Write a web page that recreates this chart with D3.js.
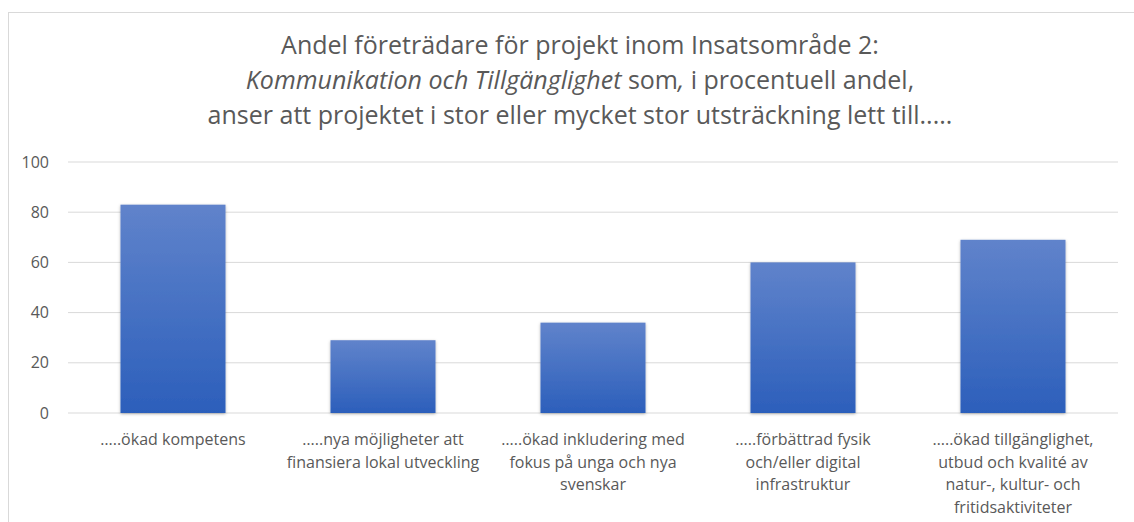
<!DOCTYPE html>
<html>
<head>
<meta charset="utf-8">
<script src="https://cdn.jsdelivr.net/npm/d3@7"></script>
<style>
  body { margin: 0; background: #fff; }
  svg text { font-family: "Open Sans", "Noto Sans", sans-serif; fill: #595959; }
</style>
</head>
<body>
<div id="chart"></div>
<script>
var categories = ["c1", "c2", "c3", "c4", "c5"];
var categoryLines = [
  ["…..ökad kompetens"],
  ["…..nya möjligheter att", "finansiera lokal utveckling"],
  ["…..ökad inkludering med", "fokus på unga och nya", "svenskar"],
  ["…..förbättrad fysik", "och/eller digital", "infrastruktur"],
  ["…..ökad tillgänglighet,", "utbud och kvalité av", "natur-, kultur- och", "fritidsaktiviteter"]
];
var values = [83, 29, 36, 60, 69];
var yTicks = [0, 20, 40, 60, 80, 100];

function main() {
  var width = 1134,
    height = 522;
  var margin = { left: 68, right: 16, top: 162, bottom: 109 };

  var svg = d3.select("#chart").append("svg").attr("width", width).attr("height", height);

  var defs = svg.append("defs");
  var grad = defs.append("linearGradient").attr("id", "barfill")
    .attr("x1", 0).attr("y1", 0).attr("x2", 0).attr("y2", 1);
  grad.append("stop").attr("offset", "0%").attr("stop-color", "#6083cb");
  grad.append("stop").attr("offset", "100%").attr("stop-color", "#2c5fbb");
  var shadow = defs.append("filter").attr("id", "shadow")
    .attr("x", "-20%").attr("y", "-20%").attr("width", "140%").attr("height", "140%");
  shadow.append("feDropShadow").attr("dx", 0).attr("dy", 1).attr("stdDeviation", 1.5)
    .attr("flood-color", "#000").attr("flood-opacity", 0.3);

  // chart frame
  svg.append("rect").attr("x", 8.5).attr("y", 12.5).attr("width", 1140).attr("height", 540)
    .attr("fill", "none").attr("stroke", "#d9d9d9").attr("stroke-width", 1);

  var x = d3.scaleBand().domain(categories)
    .range([margin.left, width - margin.right])
    .paddingInner(0.5).paddingOuter(0.25);
  var y = d3.scaleLinear().domain([0, 100]).range([height - margin.bottom, margin.top]);

  // gridlines
  svg.append("g").selectAll("line").data(yTicks).enter().append("line")
    .attr("x1", margin.left).attr("x2", width - margin.right)
    .attr("y1", function(d) { return y(d); }).attr("y2", function(d) { return y(d); })
    .attr("stroke", "#d9d9d9").attr("stroke-width", 1);

  var yAxis = svg.append("g").attr("transform", "translate(" + (margin.left - 19) + ",0)")
    .call(d3.axisLeft(y).tickValues(yTicks).tickSize(0).tickPadding(0));
  yAxis.select(".domain").remove();
  yAxis.selectAll("text").attr("font-size", 16).attr("fill", "#595959")
    .style("font-family", "'Open Sans', sans-serif");

  svg.append("g").selectAll("rect").data(values).enter().append("rect")
    .attr("x", function(d, i) { return x(categories[i]); })
    .attr("y", function(d) { return y(d); })
    .attr("width", x.bandwidth())
    .attr("height", function(d) { return y(0) - y(d); })
    .attr("fill", "url(#barfill)")
    .attr("filter", "url(#shadow)");

  // category labels
  var labels = svg.append("g").selectAll("text").data(categoryLines).enter().append("text")
    .attr("text-anchor", "middle").attr("font-size", 16)
    .attr("transform", function(d, i) { return "translate(" + (x(categories[i]) + x.bandwidth() / 2) + ",445)"; });
  labels.selectAll("tspan").data(function(d) { return d; }).enter().append("tspan")
    .attr("x", 0).attr("dy", function(d, j) { return j === 0 ? 0 : 22.5; })
    .text(function(d) { return d; });

  // title
  var cx = 580;
  var title = svg.append("text").attr("text-anchor", "middle").attr("font-size", 25)
    .attr("x", cx);
  title.append("tspan").attr("x", cx).attr("y", 54)
    .text("Andel företrädare för projekt inom Insatsområde 2:");
  var l2 = title.append("tspan").attr("x", cx).attr("y", 89);
  l2.append("tspan").attr("font-style", "italic").text("Kommunikation och Tillgänglighet");
  l2.append("tspan").text(" som");
  l2.append("tspan").attr("font-style", "italic").text(",");
  l2.append("tspan").text(" i procentuell andel,");
  title.append("tspan").attr("x", cx).attr("y", 124)
    .text("anser att projektet i stor eller mycket stor utsträckning lett till.....");
}

main();
</script>
</body>
</html>
